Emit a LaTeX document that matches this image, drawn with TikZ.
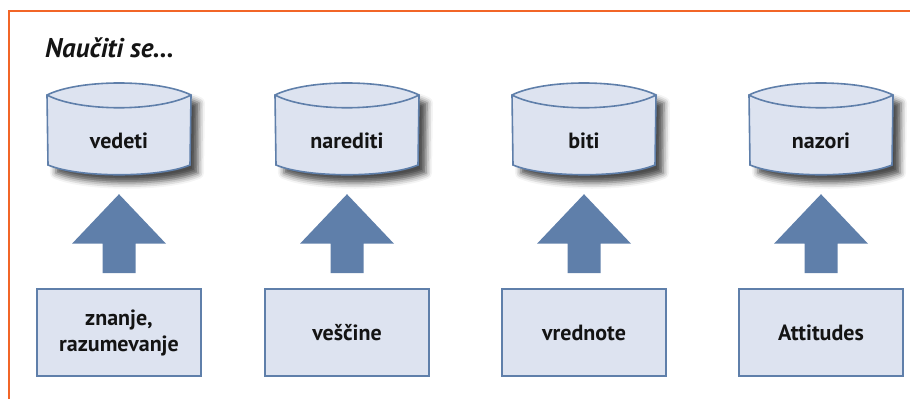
\documentclass[tikz,border=0pt]{standalone}
\usepackage{fontspec}
\setmainfont{PT Sans}
\usetikzlibrary{shadows.blur,calc}
\definecolor{frameorange}{HTML}{F26527}
\definecolor{shapefill}{HTML}{DDE3F0}
\definecolor{shapeline}{HTML}{5F7FAA}
\definecolor{arrowblue}{HTML}{5F7FAA}
\definecolor{inktext}{HTML}{141414}
\begin{document}
\begin{tikzpicture}[x=1pt,y=-1pt,
  frameline/.style={draw=frameorange,line width=2pt},
  headline/.style={font=\fontsize{27}{30}\selectfont\bfseries\itshape,text=inktext,inner sep=0pt},
  cylbody/.style={fill=shapefill,draw=shapeline,line width=1.6pt,
    blur shadow={shadow xshift=8pt,shadow yshift=-8pt,shadow blur radius=6pt,shadow opacity=70}},
  cylrim/.style={draw=shapeline,line width=1.6pt},
  cyllabel/.style={font=\fontsize{22}{26}\selectfont\bfseries,text=inktext,inner sep=1pt},
  sourcebox/.style={rectangle,fill=shapefill,draw=shapeline,line width=1.6pt,
    minimum width=164pt,minimum height=87pt,align=center,
    font=\fontsize{22}{26}\selectfont\bfseries,text=inktext},
  blockarrow/.style={fill=arrowblue,draw=none}]
\useasboundingbox (0,0) rectangle (910,399);
% orange frame: top and left edges only
\draw[frameline] (8.5,399) -- (8.5,11) -- (910,11);
\node[headline,anchor=base west] (title) at (45,57) {Naučiti se…};
\foreach \cx/\i/\up/\low in {119/1/vedeti/{znanje,\\razumevanje},347/2/narediti/veščine,584/3/biti/vrednote,821/4/nazori/Attitudes}{
  % cylinder outline with drop shadow
  \path[cylbody] (\cx-72,95) .. controls (\cx-40,79) and (\cx+40,79) .. (\cx+72,95)
    -- (\cx+71,165) .. controls (\cx+40,178) and (\cx-40,178) .. (\cx-71,165) -- cycle;
  % front edge of the top ellipse
  \draw[cylrim] (\cx-72,95) .. controls (\cx-40,112) and (\cx+40,112) .. (\cx+72,95);
  \node[cyllabel] (c\i) at (\cx,141) {\up};
  \node[sourcebox] (b\i) at (\cx,332.5) {\low};
  % block arrow rising from the box towards the cylinder
  \fill[blockarrow] ($(b\i.north)+(-16.5,-15)$) -- ($(b\i.north)+(16.5,-15)$)
    -- ($(b\i.north)+(16.5,-44.5)$) -- ($(b\i.north)+(47,-44.5)$)
    -- ($(b\i.north)+(0,-94)$) -- ($(b\i.north)+(-47,-44.5)$)
    -- ($(b\i.north)+(-16.5,-44.5)$) -- cycle;
}
\end{tikzpicture}
\end{document}
